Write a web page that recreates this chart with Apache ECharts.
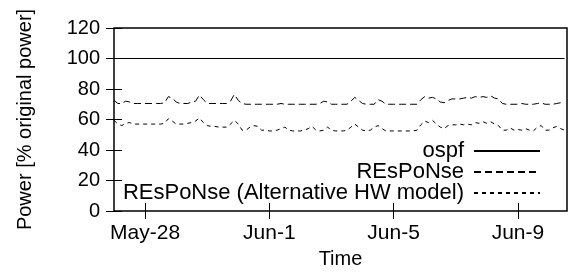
<!DOCTYPE html>
<html>
<head>
<meta charset="utf-8">
<script src="https://cdn.jsdelivr.net/npm/echarts@6/dist/echarts.min.js"></script>
<style>
  html, body { margin: 0; padding: 0; background: #fff; }
  #chart { width: 570px; height: 274px; }
</style>
</head>
<body>
<div id="chart"></div>
<script>
// x is in days since May-27 00:00, one sample every 3 hours
const sampleStepDays = 0.125
const tickDays = [1, 5, 9, 13]
const tickLabels = ['May-28', 'Jun-1', 'Jun-5', 'Jun-9']

const ospfDays = [0, 14.5]
const ospfValues = [100, 100]

// REsPoNse, 8 samples per day
const responseValues = [
  72.5, 70.5, 70.5, 72, 71.5, 70.5, 70.5, 70.5,
  70.5, 70.5, 70.5, 70.5, 70.5, 71, 75, 74,
  71.5, 70.5, 70.5, 70.5, 71.5, 72, 76, 73,
  70.5, 70.5, 70.5, 70.5, 70.5, 70.5, 72, 76.5,
  72.5, 70.5, 70, 70, 70, 70, 70, 70,
  70, 70, 70, 70.5, 70, 70, 70, 70,
  70, 70, 70, 70, 70, 70.5, 72, 71.5,
  70, 70, 70, 70, 70, 72, 74.5, 72.5,
  70.5, 70, 70, 70, 73, 72, 70, 70,
  70, 70, 70, 70, 70, 70, 70, 73,
  75, 74, 74.5, 73.5, 71.5, 71, 72.5, 73.5,
  73.5, 73.5, 74, 74.5, 74, 75, 74.5, 75,
  74.5, 75.5, 74, 73.5, 70.5, 70, 70, 70,
  70, 70.5, 70, 70, 70, 70.5, 71, 70,
  70, 70, 70.5, 71, 70.5
]

// REsPoNse (Alternative HW model)
const altValues = [
  59.5, 57, 56, 57.5, 58, 57, 57, 57,
  57, 57, 57, 57, 57, 57.5, 60.5, 59,
  57, 57, 57, 57.5, 58, 59, 61, 58,
  56, 55.5, 55.5, 55, 55, 55, 57, 59.5,
  57, 53, 53, 55, 56, 55.5, 53, 53,
  52.5, 52.5, 53, 54, 55, 53, 52.5, 52.5,
  52.5, 53, 54, 55.5, 53, 52.5, 53, 55,
  53, 52.5, 52.5, 52.5, 53, 55, 57, 55,
  53, 52.5, 53, 55, 56, 54, 52.5, 52.5,
  52.5, 52.5, 52.5, 52.5, 52.5, 52.5, 53, 56.5,
  59, 58, 59.5, 57, 55, 54, 56, 56.5,
  56.5, 57, 56.5, 57, 56.5, 58, 57.5, 58.5,
  57.5, 58.5, 57, 56, 53, 53, 54.5, 53,
  53.5, 53, 54, 53, 52.5, 55, 56, 53,
  53, 54.5, 55.5, 54, 53
]

const pairs = vals => vals.map((v, i) => [i * sampleStepDays, v])

const font = 'Liberation Sans, Arial, Helvetica, sans-serif'
const names = ['ospf', 'REsPoNse', 'REsPoNse (Alternative HW model)']

const chart = echarts.init(document.getElementById('chart'), null, { renderer: 'canvas' })

// one legend per row so the keys line up on the right like gnuplot's
const legendAt = (name, top) => ({
  data: [name],
  right: 29,
  top: top,
  align: 'right',
  itemWidth: 66,
  itemHeight: 14,
  padding: 0,
  itemStyle: { opacity: 0 },
  textStyle: { fontFamily: font, fontSize: 22, color: '#000', padding: [0, 5, 0, 0] },
  selectedMode: false
})

chart.setOption({
  animation: false,
  grid: {
    left: 114, right: 3, top: 28, bottom: 63,
    show: true, borderColor: '#000', borderWidth: 1.5, backgroundColor: 'transparent'
  },
  legend: [
    legendAt(names[0], 140),
    legendAt(names[1], 161),
    legendAt(names[2], 182)
  ],
  xAxis: [
    {
      type: 'value', min: 0, max: 14.58,
      name: 'Time', nameLocation: 'middle', nameGap: 38,
      nameTextStyle: { fontFamily: font, fontSize: 20, color: '#000' },
      axisLine: { show: false },
      splitLine: { show: false },
      axisTick: { inside: true, length: 8, customValues: tickDays, lineStyle: { color: '#000' } },
      axisLabel: {
        customValues: tickDays, margin: 12,
        fontFamily: font, fontSize: 21, color: '#000',
        formatter: v => tickLabels[tickDays.indexOf(v)]
      }
    },
    {
      type: 'value', min: 0, max: 14.58, position: 'top',
      axisLine: { show: false },
      splitLine: { show: false },
      axisTick: { inside: true, length: 8, customValues: tickDays, lineStyle: { color: '#000' } },
      axisLabel: { show: false }
    }
  ],
  yAxis: [
    {
      type: 'value', min: 0, max: 120, interval: 20,
      name: 'Power [% original power]', nameLocation: 'middle', nameGap: 79,
      nameTextStyle: { fontFamily: font, fontSize: 20, color: '#000' },
      axisLine: { show: false },
      splitLine: { show: false },
      axisTick: { inside: true, length: 8, lineStyle: { color: '#000' } },
      axisLabel: { margin: 14, fontFamily: font, fontSize: 20, color: '#000' }
    },
    {
      type: 'value', min: 0, max: 120, interval: 20, position: 'right',
      axisLine: { show: false },
      splitLine: { show: false },
      axisTick: { inside: true, length: 8, lineStyle: { color: '#000' } },
      axisLabel: { show: false }
    }
  ],
  series: [
    {
      name: names[0], type: 'line', showSymbol: false, symbol: 'none',
      data: ospfDays.map((d, i) => [d, ospfValues[i]]),
      lineStyle: { color: '#000', width: 1 }, itemStyle: { color: '#000' }
    },
    {
      name: names[1], type: 'line', showSymbol: false, symbol: 'none',
      data: pairs(responseValues),
      lineStyle: { color: '#000', width: 1, type: [7, 4] }, itemStyle: { color: '#000' }
    },
    {
      name: names[2], type: 'line', showSymbol: false, symbol: 'none',
      data: pairs(altValues),
      lineStyle: { color: '#000', width: 1, type: [4, 4] }, itemStyle: { color: '#000' }
    }
  ]
})
</script>
</body>
</html>
